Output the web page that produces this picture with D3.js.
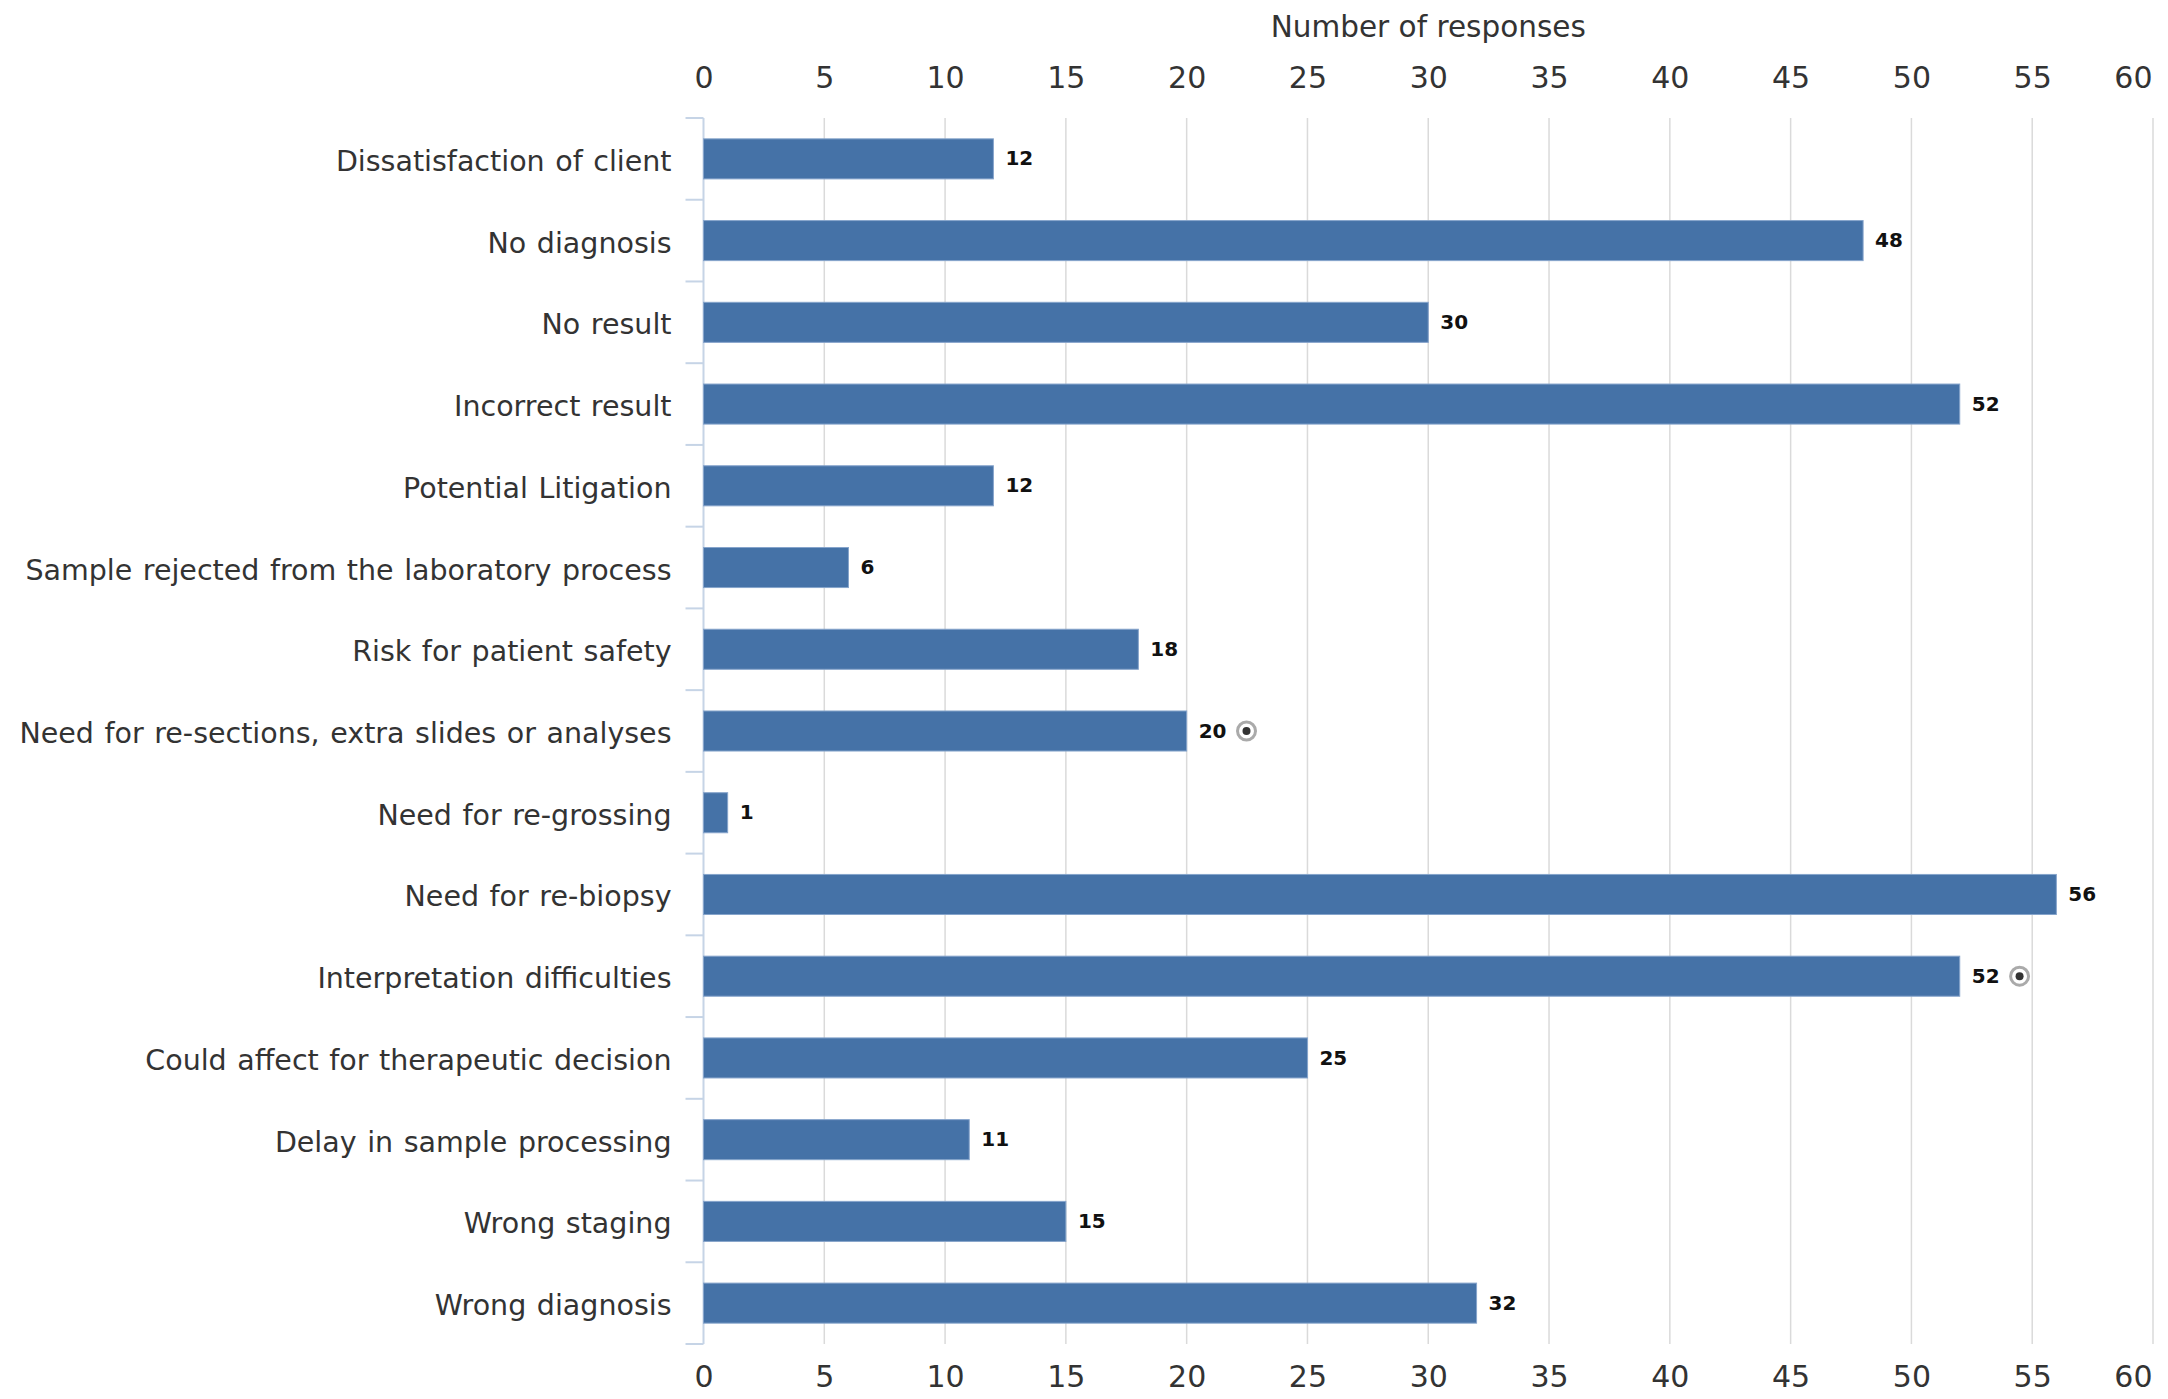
<!DOCTYPE html>
<html><head><meta charset="utf-8">
<script src="https://cdn.jsdelivr.net/npm/d3@7"></script>
<style>html,body{margin:0;padding:0;background:#fff;}</style>
</head><body>
<svg id="chart" width="2168" height="1399"></svg>
<script>
const categories = [
  "Dissatisfaction of client",
  "No diagnosis",
  "No result",
  "Incorrect result",
  "Potential Litigation",
  "Sample rejected from the laboratory process",
  "Risk for patient safety",
  "Need for re-sections, extra slides or analyses",
  "Need for re-grossing",
  "Need for re-biopsy",
  "Interpretation difficulties",
  "Could affect for therapeutic decision",
  "Delay in sample processing",
  "Wrong staging",
  "Wrong diagnosis"
];
const values = [12, 48, 30, 52, 12, 6, 18, 20, 1, 56, 52, 25, 11, 15, 32];
const flagged = ["Need for re-sections, extra slides or analyses", "Interpretation difficulties"];
const xTicks = [0, 5, 10, 15, 20, 25, 30, 35, 40, 45, 50, 55, 60];
const axisTitle = "Number of responses";

const svg = d3.select("#chart");
const FONT = "DejaVu Sans";
const TXT = "#333";
const pLeft = 703.5, pRight = 2153, pTop = 118, pBottom = 1344;

const x = d3.scaleLinear().domain([0, 60]).range([pLeft, pRight]);
const y = d3.scaleBand().domain(categories).range([pTop, pBottom]).paddingInner(0.51).paddingOuter(0.255);

// gridlines
svg.append("g").selectAll("line").data(xTicks.filter(d => d > 0)).join("line")
  .attr("x1", d => x(d)).attr("x2", d => x(d))
  .attr("y1", pTop).attr("y2", pBottom)
  .attr("stroke", "#dadada").attr("stroke-width", 1.5);

// top & bottom axes
const axTop = d3.axisTop(x).tickValues(xTicks).tickSize(0).tickPadding(0);
const axBot = d3.axisBottom(x).tickValues(xTicks).tickSize(0).tickPadding(0);
const gT = svg.append("g").attr("transform", `translate(0,${pTop - 30})`).call(axTop);
const gB = svg.append("g").attr("transform", `translate(0,${pBottom + 43})`).call(axBot);
[gT, gB].forEach(g => {
  g.select(".domain").remove();
  g.selectAll("text").attr("font-family", FONT).attr("font-size", 30).attr("fill", TXT);
  // keep last label inside the plot's right edge
  g.selectAll(".tick").filter(d => d === 60).select("text")
    .attr("text-anchor", "end").attr("x", -1);
});
gB.selectAll("text").attr("dy", "0em");

// title
svg.append("text").attr("x", (pLeft + pRight) / 2).attr("y", 37)
  .attr("text-anchor", "middle").attr("font-family", FONT).attr("font-size", 29.5)
  .attr("fill", TXT).text(axisTitle);

// left axis line and ticks at band boundaries
const axisColor = "#c6d4e6";
svg.append("line").attr("x1", pLeft).attr("x2", pLeft).attr("y1", pTop).attr("y2", pBottom)
  .attr("stroke", axisColor).attr("stroke-width", 2);
const bounds = d3.range(categories.length + 1).map(i => y.range()[0] + i * y.step());
svg.append("g").selectAll("line").data(bounds).join("line")
  .attr("x1", pLeft - 18).attr("x2", pLeft).attr("y1", d => d).attr("y2", d => d)
  .attr("stroke", axisColor).attr("stroke-width", 2);

// category labels
svg.append("g").selectAll("text").data(categories).join("text")
  .attr("x", pLeft - 32).attr("y", d => y(d) + y.bandwidth() / 2)
  .attr("dy", "0.42em").attr("text-anchor", "end")
  .attr("font-family", FONT).attr("font-size", 28.5).attr("fill", TXT)
  .attr("word-spacing", 1.5)
  .text(d => d);

// bars
svg.append("g").selectAll("rect").data(values).join("rect")
  .attr("x", x(0)).attr("y", (d, i) => y(categories[i]))
  .attr("width", d => x(d) - x(0)).attr("height", y.bandwidth())
  .attr("fill", "#4572a7").attr("stroke", "#86a4cb").attr("stroke-width", 1);

// value labels
const vl = svg.append("g").selectAll("text").data(values).join("text")
  .attr("x", d => x(d) + 12).attr("y", (d, i) => y(categories[i]) + y.bandwidth() / 2)
  .attr("dy", "0.33em")
  .attr("font-family", FONT).attr("font-size", 20).attr("font-weight", "bold").attr("fill", "#111")
  .text(d => d);

// markers
vl.each(function(d, i) {
  if (!flagged.includes(categories[i])) return;
  const bb = this.getBBox();
  const cx = bb.x + bb.width + 20, cy = y(categories[i]) + y.bandwidth() / 2;
  svg.append("circle").attr("cx", cx).attr("cy", cy).attr("r", 9)
    .attr("fill", "#fff").attr("stroke", "#aaa").attr("stroke-width", 3);
  svg.append("circle").attr("cx", cx).attr("cy", cy).attr("r", 4).attr("fill", "#333");
});
</script>
</body></html>
